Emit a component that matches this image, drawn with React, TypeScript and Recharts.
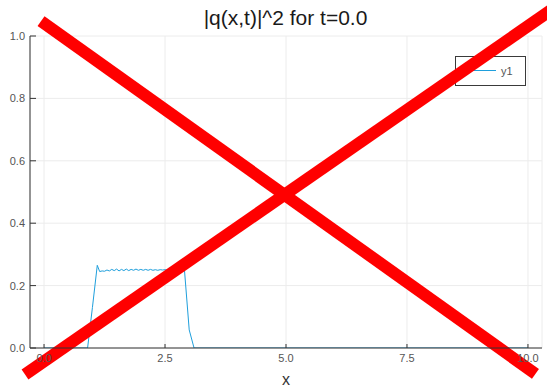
import React from 'react';
import { LineChart, Line, XAxis, YAxis, CartesianGrid, ReferenceLine, Label, Customized } from 'recharts';

const title = '|q(x,t)|^2 for t=0.0';
const seriesName = 'y1';
const xLabel = 'x';

const xValues = [
  0, 0.9, 1.0, 1.1, 1.15, 1.2, 1.25, 1.3, 1.35, 1.4, 1.45, 1.5, 1.55, 1.6, 1.65, 1.7, 1.75, 1.8,
  1.85, 1.9, 1.95, 2.0, 2.05, 2.1, 2.15, 2.2, 2.25, 2.3, 2.35, 2.4, 2.45, 2.5, 2.55, 2.6, 2.65,
  2.7, 2.75, 2.8, 2.85, 2.9, 3.0, 3.1, 10,
];
const yValues = [
  0, 0, 0.13, 0.265, 0.245, 0.247, 0.246, 0.25, 0.247, 0.252, 0.248, 0.253, 0.247, 0.252, 0.248,
  0.253, 0.248, 0.252, 0.249, 0.253, 0.249, 0.252, 0.249, 0.252, 0.249, 0.252, 0.249, 0.251, 0.249,
  0.251, 0.25, 0.251, 0.25, 0.251, 0.25, 0.251, 0.25, 0.251, 0.252, 0.254, 0.058, 0, 0,
];

const xTicks = [0, 2.5, 5, 7.5, 10];
const yTicks = [0, 0.2, 0.4, 0.6, 0.8, 1.0];

const crossA = [{ x: -0.062, y: 1.048 }, { x: 10.155, y: -0.083 }];
const crossB = [{ x: -0.393, y: -0.085 }, { x: 10.476, y: 1.083 }];

const data = xValues.map((x, i) => ({ x, y: yValues[i] }));

const LINE_COLOR = '#1f9fdc';
const FONT = '"Liberation Sans", Arial, Helvetica, sans-serif';

const Title = () => (
  <text x={285.5} y={25} textAnchor="middle" fontSize={21} fill="#1a1a1a" fontFamily={FONT}>
    {title}
  </text>
);

const LegendBox = () => (
  <g>
    <rect x={455.5} y={56.5} width={70} height={29} fill="#ffffff" stroke="#3a3a3a" strokeWidth={1} />
    <line x1={472} x2={496} y1={70.5} y2={70.5} stroke={LINE_COLOR} strokeWidth={1} />
    <text x={501} y={74.5} fontSize={11} fill="#555" fontFamily={FONT}>
      {seriesName}
    </text>
  </g>
);

export default function App() {
  return (
    <div style={{ position: 'absolute', left: 0, top: 0, width: 547, height: 387, background: '#fff', fontFamily: FONT }}>
      <LineChart width={547} height={387} data={data} margin={{ top: 36, right: 5, bottom: 0, left: 0 }}>
        <CartesianGrid stroke="#ececec" strokeWidth={1} />
        <XAxis
          dataKey="x"
          type="number"
          domain={[-0.29, 10.29]}
          ticks={xTicks}
          allowDataOverflow
          tickFormatter={(v: number) => v.toFixed(1)}
          height={39}
          tickSize={-4}
          tickMargin={10}
          stroke="#333"
          tick={{ fill: '#555', fontSize: 11 }}
        >
          <Label value={xLabel} position="insideBottom" offset={2} style={{ fontSize: 16, fill: '#333' }} />
        </XAxis>
        <YAxis
          type="number"
          domain={[0, 1]}
          ticks={yTicks}
          allowDataOverflow
          tickFormatter={(v: number) => v.toFixed(1)}
          width={30}
          tickSize={-6}
          tickMargin={11}
          stroke="#333"
          tick={{ fill: '#555', fontSize: 11 }}
        />
        <Line
          type="linear"
          dataKey="y"
          name={seriesName}
          stroke={LINE_COLOR}
          strokeWidth={1}
          dot={false}
          activeDot={false}
          isAnimationActive={false}
        />
        <Customized component={Title} />
        <Customized component={LegendBox} />
        <ReferenceLine segment={crossA} stroke="#ff0000" strokeWidth={12} ifOverflow="visible" />
        <ReferenceLine segment={crossB} stroke="#ff0000" strokeWidth={12} ifOverflow="visible" />
      </LineChart>
    </div>
  );
}
